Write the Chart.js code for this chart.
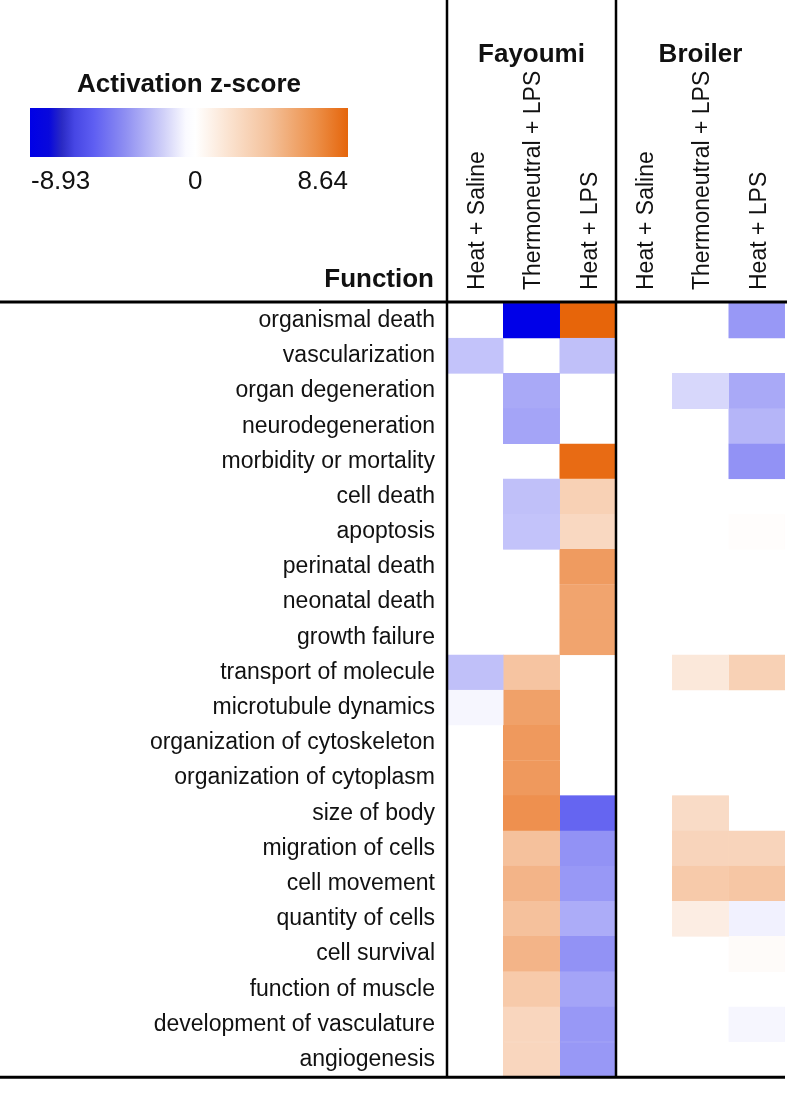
<!DOCTYPE html>
<html>
<head>
<meta charset="utf-8">
<script src="https://cdn.jsdelivr.net/npm/chart.js@4.4.1/dist/chart.umd.min.js"></script>
<style>
  html, body { margin: 0; padding: 0; background: #fff; }
  #wrap { position: relative; width: 787px; height: 1103px; }
  #legend { position: absolute; left: 0; top: 0; width: 380px; height: 200px; font-family: "Liberation Sans", Arial, sans-serif; color: #111; }
  #legTitle { position: absolute; left: 30px; width: 318px; top: 68px; text-align: center; font-weight: bold; font-size: 26px; line-height: 30px; }
  #legBar { position: absolute; left: 30px; top: 108px; width: 318px; height: 49px;
    background: linear-gradient(to right, #0000e6 0%, #0808dc 6%, #2a2ac4 10%, #4646e4 14%, #5e5ef2 20%, #8f8ff2 30%, #d0d0f8 42%, #fafaff 49%, #ffffff 52%, #fbe4d2 62%, #f4c29c 75%, #ec8f48 90%, #e5650b 100%); }
  .legTick { position: absolute; top: 166px; font-size: 26px; line-height: 28px; }
</style>
</head>
<body>
<div id="wrap">
  <canvas id="c" width="787" height="1103"></canvas>
  <div id="legend">
    <div id="legTitle">Activation z-score</div>
    <div id="legBar"></div>
    <div class="legTick" style="left:31px;">-8.93</div>
    <div class="legTick" style="left:188px;">0</div>
    <div class="legTick" style="right:32px; text-align:right;">8.64</div>
  </div>
</div>
<script>
// ---- data ----
const functionsList = [
  "organismal death", "vascularization", "organ degeneration", "neurodegeneration",
  "morbidity or mortality", "cell death", "apoptosis", "perinatal death",
  "neonatal death", "growth failure", "transport of molecule", "microtubule dynamics",
  "organization of cytoskeleton", "organization of cytoplasm", "size of body",
  "migration of cells", "cell movement", "quantity of cells", "cell survival",
  "function of muscle", "development of vasculature", "angiogenesis"
];
const columnLabels = ["Heat + Saline", "Thermoneutral + LPS", "Heat + LPS", "Heat + Saline", "Thermoneutral + LPS", "Heat + LPS"];
const groupLabels = ["Fayoumi", "Broiler"];
const zMin = -8.93;
const zMax = 8.64;

const fayoumiHeatSaline = [null, -2.1, null, null, null, null, null, null, null, null, -2.2, -0.3, null, null, null, null, null, null, null, null, null, null];
const fayoumiThermoLPS  = [-8.93, null, -3.0, -3.2, null, -2.2, -2.1, null, null, null, 3.3, 5.3, 5.7, 5.7, 6.2, 3.5, 4.2, 3.5, 4.2, 3.0, 2.3, 2.3];
const fayoumiHeatLPS    = [8.64, -2.2, null, null, 8.3, 2.6, 2.2, 5.6, 5.1, 5.1, null, null, null, null, -5.4, -3.8, -3.6, -2.9, -3.8, -3.2, -3.6, -3.6];
const broilerHeatSaline = [null, null, null, null, null, null, null, null, null, null, null, null, null, null, null, null, null, null, null, null, null, null];
const broilerThermoLPS  = [null, null, -1.4, null, null, null, null, null, null, null, 1.3, null, null, null, 2.0, 2.4, 3.0, 1.0, null, null, null, null];
const broilerHeatLPS    = [-3.6, null, -3.0, -2.6, -3.8, null, 0.1, null, null, null, 2.6, null, null, null, null, 2.4, 3.2, -0.5, 0.2, null, -0.3, null];

const columns = [fayoumiHeatSaline, fayoumiThermoLPS, fayoumiHeatLPS, broilerHeatSaline, broilerThermoLPS, broilerHeatLPS];

// ---- colour scale ----
const blueEnd = [0, 0, 232];
const orangeEnd = [231, 101, 10];
function zColor(v) {
  if (v === null || v === undefined) return 'rgba(0,0,0,0)';
  let t, end;
  if (v < 0) { t = Math.min(1, v / zMin); end = blueEnd; }
  else { t = Math.min(1, v / zMax); end = orangeEnd; }
  const c = end.map(e => Math.round(255 + (e - 255) * t));
  return `rgb(${c[0]},${c[1]},${c[2]})`;
}

const datasets = columns.map((vals, ci) => ({
  label: columnLabels[ci],
  data: vals.map(v => (v === null ? null : [ci, ci + 1])),
  backgroundColor: vals.map(zColor),
  borderColor: vals.map(zColor),
  borderWidth: 0.5,
  borderSkipped: false,
  barPercentage: 1,
  categoryPercentage: 1,
  grouped: false
}));

const FONT = '"Liberation Sans", Arial, sans-serif';
const LABEL_SIZE = 23;

const framePlugin = {
  id: 'frame',
  afterDraw(chart) {
    const ctx = chart.ctx;
    const ca = chart.chartArea;
    const xs = chart.scales.x;
    ctx.save();
    ctx.strokeStyle = '#000';
    ctx.lineWidth = 2.5;
    [0, 3].forEach(v => {
      const px = Math.round(xs.getPixelForValue(v));
      ctx.beginPath(); ctx.moveTo(px, 0); ctx.lineTo(px, ca.bottom); ctx.stroke();
    });
    ctx.lineWidth = 3;
    ctx.beginPath(); ctx.moveTo(0, ca.top - 1); ctx.lineTo(chart.width, ca.top - 1); ctx.stroke();
    ctx.beginPath(); ctx.moveTo(0, ca.bottom); ctx.lineTo(ca.right, ca.bottom); ctx.stroke();
    ctx.fillStyle = '#111';
    ctx.font = 'bold 26px ' + FONT;
    ctx.textAlign = 'center';
    ctx.textBaseline = 'alphabetic';
    ctx.fillText(groupLabels[0], xs.getPixelForValue(1.5), 62);
    ctx.fillText(groupLabels[1], xs.getPixelForValue(4.5), 62);
    ctx.textAlign = 'right';
    ctx.fillText('Function', ca.left - 13, 287);
    ctx.restore();
  }
};

new Chart(document.getElementById('c'), {
  type: 'bar',
  data: { labels: functionsList, datasets },
  options: {
    indexAxis: 'y',
    responsive: false,
    animation: false,
    events: [],
    layout: { padding: { left: 0, right: 2, top: 0, bottom: 6 } },
    plugins: { legend: { display: false }, tooltip: { enabled: false } },
    scales: {
      x: {
        type: 'linear',
        position: 'top',
        min: 0, max: 6,
        grid: { display: false, drawTicks: false },
        border: { display: false },
        afterBuildTicks(scale) {
          scale.ticks = columnLabels.map((_, i) => ({ value: i + 0.5 }));
        },
        afterFit(scale) { scale.height = 303; },
        ticks: {
          autoSkip: false,
          minRotation: 90,
          maxRotation: 90,
          padding: 13,
          labelOffset: Math.round(LABEL_SIZE * 1.2) + 2,
          color: '#111',
          font: { family: FONT, size: LABEL_SIZE },
          callback: (v, i) => columnLabels[i]
        }
      },
      y: {
        type: 'category',
        grid: { display: false, drawTicks: false },
        border: { display: false },
        afterFit(scale) { scale.width = 447; },
        ticks: {
          autoSkip: false,
          padding: 12,
          color: '#111',
          font: { family: FONT, size: LABEL_SIZE }
        }
      }
    }
  },
  plugins: [framePlugin]
});
</script>
</body>
</html>
